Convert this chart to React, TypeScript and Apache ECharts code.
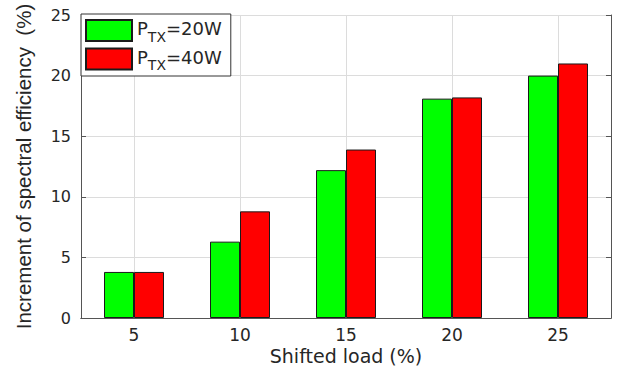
import React, { useEffect, useRef } from "react";
import * as echarts from "echarts";

const categories = ["5", "10", "15", "20", "25"];
const seriesNames = ["PTX=20W", "PTX=40W"];
const legendRich = ["{p|P}{s|TX}{p|=20W}", "{p|P}{s|TX}{p|=40W}"];
const values20W = [3.8, 6.3, 12.2, 18.1, 20.0];
const values40W = [3.8, 8.8, 13.9, 18.2, 21.0];
const yTicks = { min: 0, max: 25, interval: 5 };
const gridXRange = { min: 2.5, max: 27.5 };

const FONT = "DejaVu Sans";
const AX = "#262626";

export default function App() {
  const ref = useRef<HTMLDivElement>(null);
  useEffect(() => {
    if (!ref.current) return;
    const chart = echarts.init(ref.current, undefined, { renderer: "svg" });
    chart.setOption({
      animation: false,
      backgroundColor: "#fff",
      grid: { left: 81, right: 10, top: 15, bottom: 50, outerBoundsMode: "none", containLabel: false },
      legend: {
        data: seriesNames,
        left: 81,
        top: 14,
        orient: "vertical",
        icon: "rect",
        itemWidth: 46,
        itemHeight: 21,
        itemGap: 4,
        padding: [5, 9, 4, 4],
        borderColor: "#333",
        borderWidth: 1,
        backgroundColor: "#fff",
        formatter: (name: string) => legendRich[seriesNames.indexOf(name)],
        textStyle: {
          color: AX,
          fontFamily: FONT,
          rich: {
            p: { fontSize: 18, lineHeight: 22, verticalAlign: "top", fontFamily: FONT, color: AX },
            s: { fontSize: 14, lineHeight: 14, padding: [10, 0, 0, 0], verticalAlign: "top", fontFamily: FONT, color: AX },
          },
        },
      },
      xAxis: [
        {
          type: "category",
          data: categories,
          position: "bottom",
          name: "Shifted load (%)",
          nameLocation: "middle",
          nameGap: 29.5,
          nameMoveOverlap: false,
          nameTextStyle: { fontFamily: FONT, fontSize: 19, lineHeight: 16, color: AX },
          axisLine: { lineStyle: { color: "#555" } },
          axisTick: { inside: true, alignWithLabel: true, length: 5, lineStyle: { color: "#555" } },
          axisLabel: { fontFamily: FONT, fontSize: 17, lineHeight: 16, color: AX, margin: 8.5 },
          splitLine: { show: false },
        },
        {
          type: "category",
          data: categories,
          position: "top",
          axisLine: { lineStyle: { color: "#555" } },
          axisTick: { inside: true, alignWithLabel: true, length: 5, lineStyle: { color: "#555" } },
          axisLabel: { show: false },
          splitLine: { show: false },
        },
        {
          type: "value",
          ...gridXRange,
          position: "bottom",
          axisLine: { show: false },
          axisTick: { show: false },
          axisLabel: { show: false },
          splitLine: { show: true, lineStyle: { color: "#dcdcdc" } },
        },
      ],
      yAxis: [
        {
          type: "value",
          ...yTicks,
          position: "left",
          name: "Increment of spectral efficiency  (%)",
          nameLocation: "middle",
          nameGap: 48,
          nameMoveOverlap: false,
          nameTextStyle: { fontFamily: "Liberation Sans", fontSize: 20.5, lineHeight: 20, color: AX },
          axisLine: { show: true, lineStyle: { color: "#555" } },
          axisTick: { show: true, inside: true, length: 5, lineStyle: { color: "#555" } },
          axisLabel: { fontFamily: FONT, fontSize: 16, color: AX, margin: 10 },
          splitLine: { show: true, lineStyle: { color: "#dcdcdc" } },
        },
        {
          type: "value",
          ...yTicks,
          position: "right",
          axisLine: { show: true, lineStyle: { color: "#555" } },
          axisTick: { show: true, inside: true, length: 5, lineStyle: { color: "#555" } },
          axisLabel: { show: false },
          splitLine: { show: false },
        },
      ],
      series: [
        {
          name: seriesNames[0],
          type: "bar",
          data: values20W,
          barWidth: 30,
          barGap: "0%",
          itemStyle: { color: "#00ff00", borderColor: "#1a1a1a", borderWidth: 1 },
        },
        {
          name: seriesNames[1],
          type: "bar",
          data: values40W,
          barWidth: 30,
          barGap: "0%",
          itemStyle: { color: "#ff0000", borderColor: "#1a1a1a", borderWidth: 1 },
        },
      ],
    });
    return () => chart.dispose();
  }, []);
  return (
    <div
      ref={ref}
      style={{ position: "fixed", left: 0, top: 0, width: 621, height: 368 }}
    />
  );
}
